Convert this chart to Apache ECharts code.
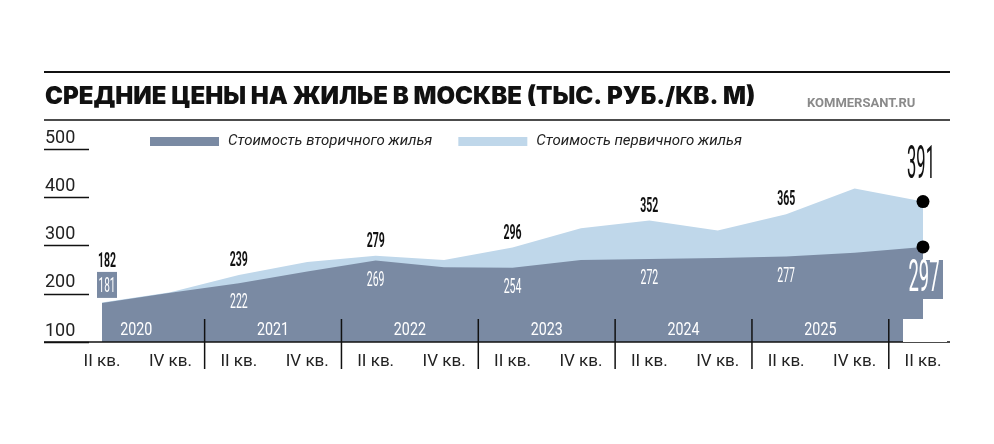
<!DOCTYPE html>
<html>
<head>
<meta charset="utf-8">
<script src="https://cdn.jsdelivr.net/npm/echarts@6/dist/echarts.min.js"></script>
<style>
  html, body { margin: 0; padding: 0; background: #fff; }
  #chart { width: 994px; height: 444px; }
</style>
</head>
<body>
<div id="chart"></div>
<script>
// half-year points, 2020 Q2 .. 2026 Q2
const categories = ['II кв.', 'IV кв.', 'II кв.', 'IV кв.', 'II кв.', 'IV кв.', 'II кв.',
  'IV кв.', 'II кв.', 'IV кв.', 'II кв.', 'IV кв.', 'II кв.'];
const years = ['2020', '2021', '2022', '2023', '2024', '2025', '2026'];
// тыс. руб. за кв. м
const secondary = [181, 202, 222, 246, 269, 255, 254, 270, 272, 274, 277, 285, 297];
const primary = [182, 203, 239, 266, 279, 270, 296, 336, 352, 331, 365, 418, 391];
const seriesNames = ['Стоимость вторичного жилья', 'Стоимость первичного жилья'];

const DARK = '#7a8aa3';
const LIGHT = '#bfd7ea';
const FONT = 'Roboto, "Liberation Sans", sans-serif';
const last = primary.length - 1;

// only the II кв. points carry a value label
const labelled = (arr) => arr.map((v, i) => [i, v]).filter(d => d[0] % 2 === 0);

const chart = echarts.init(document.getElementById('chart'));

// condensed-looking numbers: ordinary text squeezed horizontally
function numText(x, y, v, size, sx, weight, fill) {
  return {
    type: 'text', x, y, scaleX: sx,
    style: {text: String(v), fill, fontSize: size, fontWeight: weight, fontFamily: FONT,
      align: 'center', verticalAlign: 'middle'}
  };
}

function primaryLabel(params, api) {
  const i = api.value(0), v = api.value(1);
  const p = api.coord([i, v]);
  if (i === last) return numText(p[0] - 2, p[1] - 35, v, 46, 0.36, 'normal', '#111');
  if (i === 0) return numText(p[0] + 5, p[1] - 41, v, 21, 0.5, 'bold', '#111');
  return numText(p[0], p[1] - 14, v, 21, 0.5, 'bold', '#111');
}

function secondaryLabel(params, api) {
  const i = api.value(0), v = api.value(1);
  const p = api.coord([i, v]);
  if (i === last) {
    return {type: 'group', children: [
      {type: 'rect', shape: {x: p[0] - 18, y: p[1] + 13, width: 38, height: 39}, style: {fill: DARK}},
      numText(p[0] + 1, p[1] + 33, v, 44, 0.42, 'normal', '#fff')
    ]};
  }
  if (i === 0) {
    return {type: 'group', children: [
      {type: 'rect', shape: {x: p[0] - 5, y: p[1] - 31, width: 20, height: 26}, style: {fill: DARK}},
      numText(p[0] + 5, p[1] - 16, v, 20, 0.5, 'normal', '#fff')
    ]};
  }
  return numText(p[0], p[1] + 20, v, 21, 0.5, 'normal', '#fff');
}

const option = {
  animation: false,
  title: [{
    text: 'СРЕДНИЕ ЦЕНЫ НА ЖИЛЬЕ В МОСКВЕ (ТЫС. РУБ./КВ. М)',
    left: 40, top: 80,
    textStyle: {fontSize: 24, fontWeight: 900, color: '#111', fontFamily: 'Inter, Roboto, sans-serif'}
  }, {
    text: 'KOMMERSANT.RU',
    left: 802, top: 92,
    textStyle: {fontSize: 13, fontWeight: 'bold', color: '#8a8a8a', fontFamily: FONT}
  }],
  legend: {
    data: seriesNames,
    left: 145, top: 129,
    icon: 'rect', itemWidth: 69, itemHeight: 9, itemGap: 26,
    textStyle: {fontSize: 15, fontStyle: 'italic', color: '#222', fontFamily: FONT, padding: [0, 0, 0, 4]}
  },
  grid: {left: 102, right: 71, top: 149, bottom: 102},
  xAxis: {
    type: 'category',
    data: categories,
    boundaryGap: false,
    axisLine: {show: false},
    axisTick: {show: false},
    axisLabel: {interval: 0, margin: 11, fontSize: 17, color: '#222', fontFamily: FONT}
  },
  yAxis: {
    type: 'value',
    min: 100, max: 500, interval: 100,
    offset: 13,
    axisLine: {show: false},
    axisTick: {show: true, length: 45, lineStyle: {color: '#111', width: 1.3}},
    splitLine: {show: false},
    axisLabel: {align: 'left', verticalAlign: 'bottom', margin: 44, padding: [0, 0, 2, 0],
      fontSize: 18, color: '#222', fontFamily: FONT}
  },
  series: [{
    name: seriesNames[1],
    type: 'line',
    data: primary,
    symbol: 'none',
    lineStyle: {width: 0},
    itemStyle: {color: LIGHT},
    areaStyle: {color: LIGHT, opacity: 1, origin: 'start'},
    z: 2
  }, {
    name: seriesNames[0],
    type: 'line',
    data: secondary,
    symbol: 'none',
    lineStyle: {width: 0},
    itemStyle: {color: DARK},
    areaStyle: {color: DARK, opacity: 1, origin: 'start'},
    z: 3
  }, {
    type: 'custom',
    renderItem: primaryLabel,
    data: labelled(primary),
    silent: true,
    z: 6
  }, {
    type: 'custom',
    renderItem: secondaryLabel,
    data: labelled(secondary),
    silent: true,
    z: 6
  }, {
    type: 'scatter',
    data: [[last, primary[last]], [last, secondary[last]]],
    symbolSize: 13,
    itemStyle: {color: '#000', opacity: 1},
    silent: true,
    z: 10
  }]
};

chart.setOption(option);

// year bands and rules, placed from the axis scales
const px = i => chart.convertToPixel({gridIndex: 0}, [i, 100])[0];
const base = chart.convertToPixel({gridIndex: 0}, [0, 100])[1];
const graphics = [];

const rule = (x1, y1, x2, y2, w) => ({
  type: 'line', z: 100, silent: true,
  shape: {x1, y1, x2, y2},
  style: {stroke: '#111', lineWidth: w}
});

const yearText = (x, text, fill) => ({
  type: 'text', z: 101, silent: true,
  x, y: base - 12, scaleX: 0.75,
  style: {text, fill, fontSize: 19, fontFamily: FONT, align: 'center', verticalAlign: 'middle'}
});

graphics.push(rule(44, 72, 950, 72, 2));
graphics.push(rule(44, 120, 950, 120, 1.5));
graphics.push(rule(44, base, 950, base, 1.5));

for (let k = 0; k < years.length - 1; k++) {
  graphics.push(yearText((px(2 * k) + px(2 * k + 1)) / 2, years[k], '#fff'));
  const sx = (px(2 * k + 1) + px(2 * k + 2)) / 2;
  graphics.push(rule(sx, base - 23, sx, base + 27, 1.5));
}

const lx = px(last);
graphics.push({
  type: 'rect', z: 100, silent: true,
  shape: {x: lx - 20, y: base - 23, width: 44, height: 23},
  style: {fill: '#fff'}
});
graphics.push(yearText(lx, years[last], '#111'));

chart.setOption({graphic: graphics});
</script>
</body>
</html>
